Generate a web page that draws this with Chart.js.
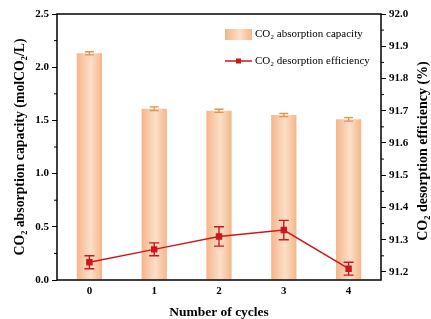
<!DOCTYPE html>
<html>
<head>
<meta charset="utf-8">
<script src="https://cdn.jsdelivr.net/npm/chart.js@4/dist/chart.umd.min.js"></script>
<style>
html, body { margin: 0; padding: 0; background: #fff; }
</style>
</head>
<body>
<canvas id="chart" width="431" height="319"></canvas>
<script>
const cycles = ['0', '1', '2', '3', '4']
const capacity = [2.13, 1.61, 1.59, 1.55, 1.51]
const capacityErr = [0.015, 0.017, 0.015, 0.015, 0.017]
const efficiency = [91.23, 91.27, 91.31, 91.33, 91.21]
const efficiencyErr = [0.02, 0.02, 0.03, 0.03, 0.02]
const leftTicks = [0, 0.5, 1.0, 1.5, 2.0, 2.5]
const rightTicks = [91.2, 91.3, 91.4, 91.5, 91.6, 91.7, 91.8, 91.9, 92.0]

const serif = 'Liberation Serif'
const barEdge = '#F4B68A'
const barMid = '#FCDFC9'
const barErrColor = '#E8904F'
const lineColor = '#D0161B'
const barPct = 0.39

function barGradient(ctx, cx, w) {
    const g = ctx.createLinearGradient(cx - w / 2, 0, cx + w / 2, 0)
    g.addColorStop(0, barEdge)
    g.addColorStop(0.55, barMid)
    g.addColorStop(1, barEdge)
    return g
}

// error bars, drawn from the scales
const errorBars = {
    id: 'errorBars',
    afterDatasetDraw(chart, args) {
        const ctx = chart.ctx
        const x = chart.scales.x
        let vals, errs, yScale, color, cap, lw
        if (args.index === 0) {
            vals = capacity; errs = capacityErr; yScale = chart.scales.y
            color = barErrColor; cap = 4.5; lw = 1.3
        } else {
            vals = efficiency; errs = efficiencyErr; yScale = chart.scales.y1
            color = lineColor; cap = 5; lw = 1.4
        }
        ctx.save()
        ctx.strokeStyle = color
        ctx.lineWidth = lw
        vals.forEach((v, i) => {
            const px = x.getPixelForValue(i)
            const top = yScale.getPixelForValue(v + errs[i])
            const bot = yScale.getPixelForValue(v - errs[i])
            ctx.beginPath()
            ctx.moveTo(px, top); ctx.lineTo(px, bot)
            ctx.moveTo(px - cap, top); ctx.lineTo(px + cap, top)
            ctx.moveTo(px - cap, bot); ctx.lineTo(px + cap, bot)
            ctx.stroke()
        })
        ctx.restore()
    }
}

// frame, minor ticks, right title and legend
const extras = {
    id: 'extras',
    afterDraw(chart) {
        const ctx = chart.ctx
        const a = chart.chartArea
        const y = chart.scales.y
        const y1 = chart.scales.y1
        ctx.save()
        ctx.strokeStyle = '#000'
        ctx.lineWidth = 1.5
        ctx.strokeRect(a.left, a.top, a.right - a.left, a.bottom - a.top)

        ctx.lineWidth = 1
        ctx.beginPath()
        for (let i = 0; i < leftTicks.length - 1; i++) {
            const py = y.getPixelForValue((leftTicks[i] + leftTicks[i + 1]) / 2)
            ctx.moveTo(a.left, py); ctx.lineTo(a.left - 3, py)
        }
        for (let i = 0; i < rightTicks.length - 1; i++) {
            const py = y1.getPixelForValue((rightTicks[i] + rightTicks[i + 1]) / 2)
            ctx.moveTo(a.right, py); ctx.lineTo(a.right + 3, py)
        }
        ctx.stroke()

        // right axis title reads bottom to top
        ctx.fillStyle = '#000'
        ctx.font = 'bold 14px "' + serif + '"'
        ctx.textAlign = 'center'
        ctx.textBaseline = 'middle'
        ctx.translate(423, (a.top + a.bottom) / 2 + 4)
        ctx.rotate(-Math.PI / 2)
        ctx.fillText('CO₂ desorption efficiency (%)', 0, 0)
        ctx.restore()

        // legend
        ctx.save()
        ctx.font = '11px "' + serif + '"'
        ctx.textBaseline = 'middle'
        ctx.textAlign = 'left'
        ctx.fillStyle = barGradient(ctx, 238.5, 27)
        ctx.fillRect(225, 29, 27, 11)
        ctx.fillStyle = '#000'
        ctx.fillText('CO₂ absorption capacity', 255, 34)
        ctx.strokeStyle = lineColor
        ctx.lineWidth = 1.5
        ctx.beginPath()
        ctx.moveTo(225, 61); ctx.lineTo(252, 61)
        ctx.stroke()
        ctx.fillStyle = lineColor
        ctx.fillRect(236, 58.5, 5, 5)
        ctx.fillStyle = '#000'
        ctx.fillText('CO₂ desorption efficiency', 255, 61)
        ctx.restore()
    }
}

const tickFont = { family: serif, size: 11, weight: 'bold' }

new Chart(document.getElementById('chart'), {
    data: {
        labels: cycles,
        datasets: [{
            type: 'bar',
            label: 'CO₂ absorption capacity',
            data: capacity,
            yAxisID: 'y',
            order: 1,
            barPercentage: barPct,
            categoryPercentage: 1,
            borderWidth: 0,
            backgroundColor: c => {
                const ch = c.chart
                if (!ch.chartArea || !ch.scales.x) return barEdge
                const xs = ch.scales.x
                const w = xs.width / cycles.length * barPct
                return barGradient(ch.ctx, xs.getPixelForValue(c.dataIndex), w)
            }
        }, {
            type: 'line',
            label: 'CO₂ desorption efficiency',
            data: efficiency,
            yAxisID: 'y1',
            order: 0,
            borderColor: lineColor,
            backgroundColor: lineColor,
            borderWidth: 1.5,
            pointStyle: 'rect',
            pointRadius: 3.5,
            tension: 0
        }]
    },
    options: {
        responsive: false,
        animation: false,
        layout: { padding: { top: 14 } },
        plugins: {
            legend: { display: false },
            tooltip: { enabled: false }
        },
        scales: {
            x: {
                type: 'category',
                offset: true,
                border: { display: false },
                grid: { display: false, drawTicks: false },
                ticks: { color: '#000', font: tickFont, padding: 5 },
                title: {
                    display: true,
                    text: 'Number of cycles',
                    color: '#000',
                    font: { family: serif, size: 13.5, weight: 'bold', lineHeight: 1.0 },
                    padding: { top: 0, bottom: 0 }
                },
                afterFit: s => { s.height = 39 }
            },
            y: {
                position: 'left',
                min: 0,
                max: 2.5,
                border: { display: false },
                grid: { drawOnChartArea: false, tickLength: 5, tickColor: '#000', tickWidth: 1 },
                ticks: { color: '#000', font: tickFont, padding: 3, callback: v => v.toFixed(1) },
                afterBuildTicks: s => { s.ticks = leftTicks.map(v => ({ value: v })) },
                title: {
                    display: true,
                    text: 'CO₂ absorption capacity (molCO₂/L)',
                    color: '#000',
                    font: { family: serif, size: 13.8, weight: 'bold' },
                    padding: { top: 12, bottom: 0 }
                },
                afterFit: s => { s.width = 57 }
            },
            y1: {
                position: 'right',
                min: 91.175,
                max: 92.0,
                border: { display: false },
                grid: { drawOnChartArea: false, tickLength: 5, tickColor: '#000', tickWidth: 1 },
                ticks: { color: '#000', font: tickFont, padding: 3, callback: v => v.toFixed(1) },
                afterBuildTicks: s => { s.ticks = rightTicks.map(v => ({ value: v })) },
                afterFit: s => { s.width = 50 }
            }
        }
    },
    plugins: [errorBars, extras]
})
</script>
</body>
</html>
